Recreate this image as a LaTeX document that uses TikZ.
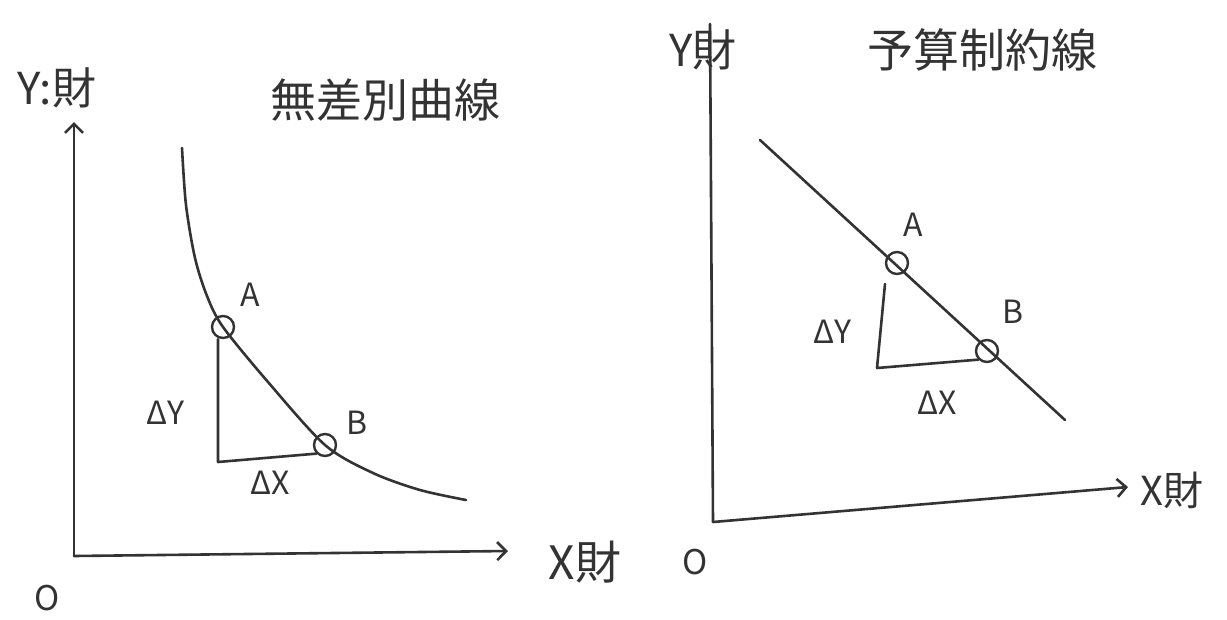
\documentclass[tikz,border=0pt]{standalone}
\usepackage{fontspec}
\usetikzlibrary{arrows.meta}
\setmainfont{Noto Sans CJK JP}
\definecolor{ink}{HTML}{333333}
\newcommand{\skText}[2]{{\fontsize{#1}{#1}\selectfont #2}}

\begin{document}
\begin{tikzpicture}[x=1pt,y=-1pt,
  pen/.style={draw=ink, line width=2.6pt, line cap=round, line join=round},
  axisarrow/.style={pen, -{Straight Barb[length=9pt,width=18pt,line width=2.6pt]}},
  ptcircle/.style={circle, draw=ink, line width=2.4pt, minimum size=22pt, inner sep=0pt},
  lbl/.style={inner sep=0pt, text=ink}]
\useasboundingbox (0,0) rectangle (1227,619);
% left panel: indifference curve
\coordinate (lO) at (74,556);
\coordinate (lYtop) at (74,122);
\coordinate (lXend) at (508,551);
\draw[axisarrow] (lO) -- (lYtop);
\draw[axisarrow] (lO) -- (lXend);
\draw[pen] plot[smooth] coordinates {(182,148) (186,205) (195,258) (207,296) (223,327) (268,382) (325,445) (373,473) (420,490) (466,500)};
\node[ptcircle] (lA) at (223,327) {};
\node[ptcircle] (lB) at (325,445) {};
\coordinate (lC) at (218,462);
\draw[pen] (lA.south -| lC) -- (lC) -- (lB.south west);
\node[lbl] (lYlab) at (57,88) {\skText{44}{Y:財}};
\node[lbl] (lTitle) at (385,100) {\skText{46}{無差別曲線}};
\node[lbl] (lXlab) at (585,562) {\skText{46}{X財}};
\node[lbl] (lOlab) at (47,598) {\skText{34}{O}};
\node[lbl] (lAlab) at (250,295) {\skText{32}{A}};
\node[lbl] (lBlab) at (357,423) {\skText{32}{B}};
\node[lbl] (lDY) at (165,413) {\skText{32}{ΔY}};
\node[lbl] (lDX) at (270,483) {\skText{32}{ΔX}};
% right panel: budget line
\coordinate (rO) at (713,522);
\coordinate (rYtop) at (710,24);
\coordinate (rXend) at (1128,487);
\draw[pen] (rO) -- (rYtop);
\draw[axisarrow] (rO) -- (rXend);
\coordinate (rL1) at (760,140);
\coordinate (rL2) at (1065,420);
\draw[pen] (rL1) -- (rL2);
\node[ptcircle] (rA) at (897,263) {};
\node[ptcircle] (rB) at (987,351) {};
\coordinate (rAfoot) at (885,284);
\coordinate (rC) at (877,368);
\draw[pen] (rAfoot) -- (rC) -- (rB.south west);
\node[lbl] (rYlab) at (703,50) {\skText{44}{Y財}};
\node[lbl] (rTitle) at (982,50) {\skText{46}{予算制約線}};
\node[lbl] (rXlab) at (1172,490) {\skText{40}{X財}};
\node[lbl] (rOlab) at (695,562) {\skText{34}{O}};
\node[lbl] (rAlab) at (913,225) {\skText{32}{A}};
\node[lbl] (rBlab) at (1013,312) {\skText{32}{B}};
\node[lbl] (rDY) at (832,332) {\skText{32}{ΔY}};
\node[lbl] (rDX) at (937,403) {\skText{32}{ΔX}};
\end{tikzpicture}
\end{document}
